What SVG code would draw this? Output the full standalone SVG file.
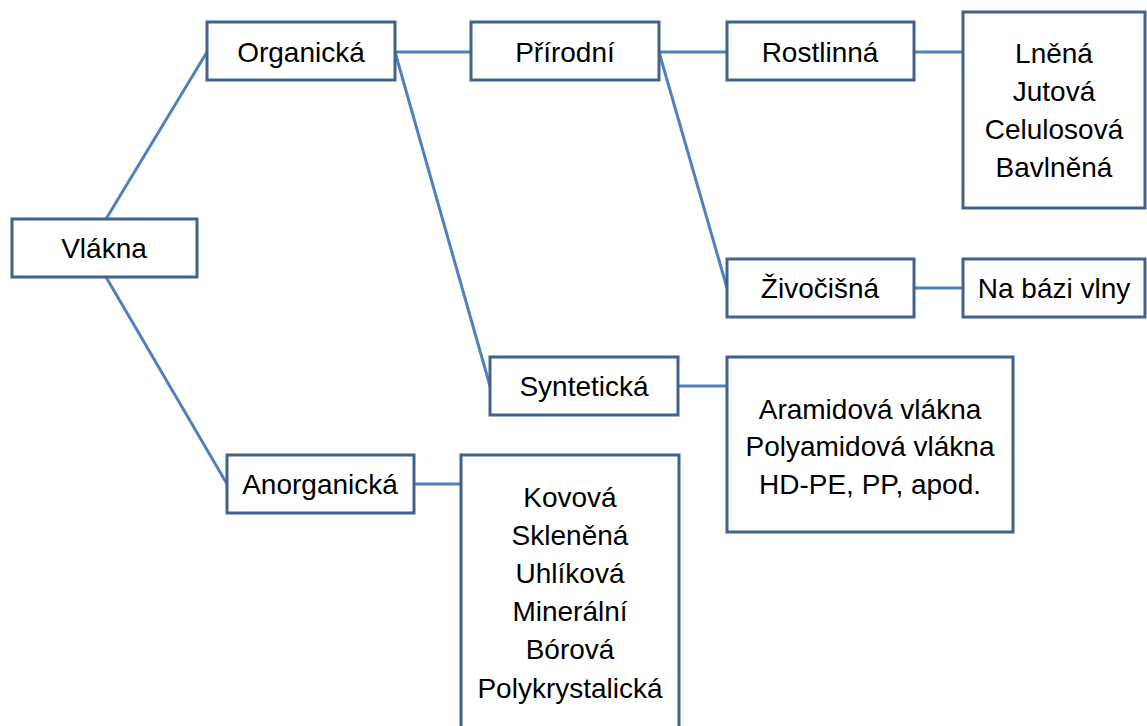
<svg xmlns="http://www.w3.org/2000/svg" width="1147" height="726" viewBox="0 0 1147 726">
<style>
.box{fill:#fff;stroke:#41628c;stroke-width:3}
.t{font-family:"Liberation Sans",Arial,sans-serif;font-size:28px;fill:#000;text-anchor:middle}
.c{stroke:#4f81bd;stroke-width:3;fill:none}
</style>
<rect width="1147" height="726" fill="#fff"/>
<g id="connectors">
<line class="c" x1="106" y1="219" x2="207" y2="52"/>
<line class="c" x1="106" y1="277" x2="227" y2="484"/>
<line class="c" x1="395" y1="52" x2="471" y2="52"/>
<line class="c" x1="395" y1="52" x2="490" y2="386"/>
<line class="c" x1="659" y1="52" x2="727" y2="52"/>
<line class="c" x1="659" y1="52" x2="727" y2="288"/>
<line class="c" x1="914" y1="52" x2="963" y2="52"/>
<line class="c" x1="914" y1="288" x2="963" y2="288"/>
<line class="c" x1="678" y1="386" x2="727" y2="386"/>
<line class="c" x1="414" y1="484" x2="461" y2="484"/>
</g>
<g id="vlakna"><rect class="box" x="12" y="219" width="185" height="58"/><text class="t" x="104" y="258">Vlákna</text></g>
<g id="organicka"><rect class="box" x="207" y="22" width="188" height="58"/><text class="t" x="301" y="62">Organická</text></g>
<g id="anorganicka"><rect class="box" x="227" y="455" width="187" height="58"/><text class="t" x="320" y="494">Anorganická</text></g>
<g id="prirodni"><rect class="box" x="471" y="22" width="188" height="58"/><text class="t" x="565" y="62">Přírodní</text></g>
<g id="synteticka"><rect class="box" x="490" y="357" width="188" height="58"/><text class="t" x="584" y="396">Syntetická</text></g>
<g id="rostlinna"><rect class="box" x="727" y="22" width="187" height="58"/><text class="t" x="820" y="62">Rostlinná</text></g>
<g id="zivocisna"><rect class="box" x="727" y="259" width="187" height="58"/><text class="t" x="820" y="298">Živočišná</text></g>
<g id="rostlinna-list"><rect class="box" x="963" y="12" width="182" height="196"/>
<text class="t" x="1054" y="63">Lněná</text><text class="t" x="1054" y="101">Jutová</text><text class="t" x="1054" y="139">Celulosová</text><text class="t" x="1054" y="177">Bavlněná</text></g>
<g id="vlna"><rect class="box" x="963" y="259" width="182" height="58"/><text class="t" x="1054" y="298">Na bázi vlny</text></g>
<g id="synteticka-list"><rect class="box" x="727" y="357" width="286" height="175"/>
<text class="t" x="870" y="419">Aramidová vlákna</text><text class="t" x="870" y="456">Polyamidová vlákna</text><text class="t" x="870" y="494">HD-PE, PP, apod.</text></g>
<g id="anorganicka-list"><rect class="box" x="461" y="455" width="218" height="290"/>
<text class="t" x="570" y="507">Kovová</text><text class="t" x="570" y="545">Skleněná</text><text class="t" x="570" y="583">Uhlíková</text><text class="t" x="570" y="621">Minerální</text><text class="t" x="570" y="659">Bórová</text><text class="t" x="570" y="698">Polykrystalická</text></g>
</svg>
